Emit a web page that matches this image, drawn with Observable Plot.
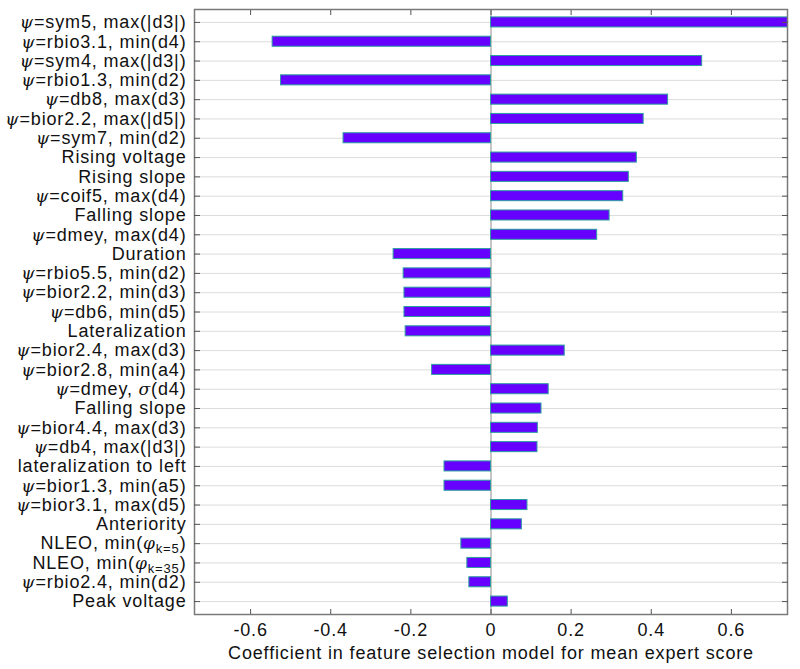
<!DOCTYPE html>
<html>
<head>
<meta charset="utf-8">
<script src="https://cdn.jsdelivr.net/npm/d3@7"></script>
<script src="https://cdn.jsdelivr.net/npm/@observablehq/plot@0.6"></script>
<style>
  html, body { margin: 0; padding: 0; background: #fff; }
  svg text { letter-spacing: 0.85px; }
</style>
</head>
<body>
<div id="chart"></div>
<script>
// Feature labels, top to bottom ("_" marks a subscript that runs to the closing parenthesis)
const features = [
  "ψ=sym5, max(|d3|)",
  "ψ=rbio3.1, min(d4)",
  "ψ=sym4, max(|d3|)",
  "ψ=rbio1.3, min(d2)",
  "ψ=db8, max(d3)",
  "ψ=bior2.2, max(|d5|)",
  "ψ=sym7, min(d2)",
  "Rising voltage",
  "Rising slope",
  "ψ=coif5, max(d4)",
  "Falling slope",
  "ψ=dmey, max(d4)",
  "Duration",
  "ψ=rbio5.5, min(d2)",
  "ψ=bior2.2, min(d3)",
  "ψ=db6, min(d5)",
  "Lateralization",
  "ψ=bior2.4, max(d3)",
  "ψ=bior2.8, min(a4)",
  "ψ=dmey, σ(d4)",
  "Falling slope",
  "ψ=bior4.4, max(d3)",
  "ψ=db4, max(|d3|)",
  "lateralization to left",
  "ψ=bior1.3, min(a5)",
  "ψ=bior3.1, max(d5)",
  "Anteriority",
  "NLEO, min(φ_k=5)",
  "NLEO, min(φ_k=35)",
  "ψ=rbio2.4, min(d2)",
  "Peak voltage"
];

// Coefficients (first bar runs past the right edge of the axes)
const coefficients = [
  0.76, -0.545, 0.527, -0.524, 0.442, 0.381, -0.368, 0.364, 0.344, 0.330,
  0.296, 0.265, -0.243, -0.218, -0.216, -0.216, -0.213, 0.184, -0.147, 0.144,
  0.126, 0.117, 0.116, -0.116, -0.116, 0.091, 0.077, -0.074, -0.059, -0.054,
  0.042
];

const xTicks = [-0.6, -0.4, -0.2, 0, 0.2, 0.4, 0.6];
const xLimits = [-0.74, 0.74];
const xLabel = "Coefficient in feature selection model for mean expert score";

const rows = features.map((label, i) => ({i, label, value: coefficients[i]}));
const order = d3.range(features.length);

const chart = Plot.plot({
  width: 800,
  height: 669,
  marginLeft: 194,
  marginRight: 13,
  marginTop: 9,
  marginBottom: 55,
  style: {fontFamily: "'Liberation Sans', Arial, Helvetica, sans-serif", fontSize: "18px", color: "#111", background: "#fff"},
  x: {domain: xLimits},
  y: {domain: order, paddingInner: 0.48, paddingOuter: 0.41, round: false},
  marks: [
    Plot.gridY({stroke: "#dcdcdc", strokeOpacity: 1, strokeWidth: 1}),
    Plot.ruleX([0], {stroke: "#a0a0a0", strokeWidth: 1.2}),
    Plot.barX(rows, {x: "value", y: "i", fill: "#6600ff", stroke: "#2a9ea0", strokeWidth: 1, clip: true}),
    Plot.frame({stroke: "#7a7a7a", strokeWidth: 1.5}),
    Plot.axisX({anchor: "bottom", ticks: xTicks, tickSize: -5, tickPadding: 14, stroke: "#555",
      tickFormat: d => String(d), label: xLabel, labelAnchor: "center", labelOffset: 44, labelArrow: "none"}),
    Plot.axisX({anchor: "top", ticks: xTicks, tickSize: -5, stroke: "#555", tickFormat: () => "", label: null}),
    Plot.axisY({anchor: "left", tickSize: -6, tickPadding: 14, stroke: "#555",
      tickFormat: i => features[i], label: null}),
    Plot.axisY({anchor: "right", tickSize: -6, stroke: "#555", tickFormat: () => "", label: null})
  ]
});

document.getElementById("chart").appendChild(chart);

// Typeset Greek symbols in italic serif and subscripts, keeping the text as real text
const svgNS = "http://www.w3.org/2000/svg";
chart.querySelectorAll('g[aria-label="y-axis tick label"] text').forEach(t => {
  const s = t.textContent;
  if (!s) return;
  while (t.firstChild) t.removeChild(t.firstChild);
  let buf = "";
  let sub = false;
  const flush = () => {
    if (buf) {
      const sp = document.createElementNS(svgNS, "tspan");
      sp.textContent = buf;
      t.appendChild(sp);
      buf = "";
    }
  };
  for (const ch of s) {
    if ("ψφσ".includes(ch)) {
      flush();
      const sp = document.createElementNS(svgNS, "tspan");
      sp.textContent = ch;
      sp.setAttribute("font-family", "'DejaVu Serif', 'Liberation Serif', serif");
      sp.setAttribute("font-style", "italic");
      sp.setAttribute("font-size", "17");
      t.appendChild(sp);
    } else if (ch === "_") {
      flush();
      sub = true;
    } else if (sub && ch === ")") {
      const sp = document.createElementNS(svgNS, "tspan");
      sp.textContent = buf;
      sp.setAttribute("font-size", "13");
      sp.setAttribute("dy", "4");
      t.appendChild(sp);
      buf = "";
      const cl = document.createElementNS(svgNS, "tspan");
      cl.textContent = ")";
      cl.setAttribute("dy", "-4");
      t.appendChild(cl);
      sub = false;
    } else {
      buf += ch;
    }
  }
  flush();
});
</script>
</body>
</html>
